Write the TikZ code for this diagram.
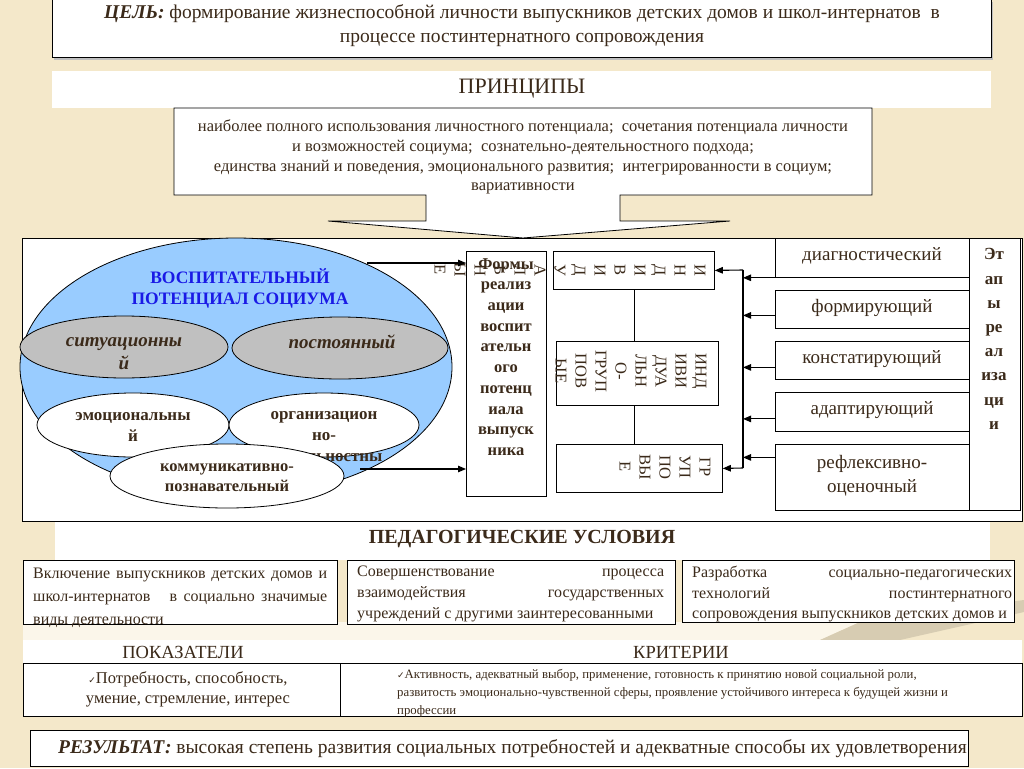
\documentclass[tikz,border=0pt]{standalone}
\usepackage{fontspec}
\setmainfont{Liberation Serif}
\newfontfamily\dejavu{DejaVu Sans}
\usetikzlibrary{shapes.geometric,arrows.meta}
\definecolor{cream}{HTML}{F4E8CA}
\definecolor{ink}{HTML}{3B2A1A}
\definecolor{skyb}{HTML}{99CCFF}
\definecolor{grayel}{HTML}{C0C0C0}
\definecolor{titleblue}{HTML}{1A1AE6}
\newcommand{\myfs}[2]{\fontsize{#1}{#2}\selectfont}
\newcommand{\chk}{{\dejavu\fontsize{9}{9}\selectfont ✓}}
\begin{document}
\begin{tikzpicture}[x=1pt,y=-1pt,
  box/.style={draw=black,line width=0.8pt,fill=white,inner sep=0pt,anchor=north west},
  band/.style={fill=white,draw=none,inner sep=0pt,anchor=north west},
  arr/.style={line width=1.1pt,-{Triangle[length=8pt,width=6.5pt]}},
  lbl/.style={text=ink,inner sep=0pt,align=center},
  el/.style={ellipse,draw=black,line width=0.8pt,inner sep=0pt},
  conn/.style={line width=0.8pt},
]
\useasboundingbox (0,0) rectangle (1024,768);
\fill[cream] (0,0) rectangle (1024,768);
% light streaks of the background
\fill[white!60!cream] (23,622) -- (860,622) -- (820,640) -- (23,640) -- cycle;
\fill[black!12!cream] (860,622) -- (1024,600) -- (1024,612) -- (900,640) -- (820,640) -- cycle;

% ---------- goal ----------
\fill[black!25] (54,2) rectangle (993,60);
\node[box,minimum width=939pt,minimum height=60pt] (goal) at (52,-3) {};
\node[lbl,font=\myfs{19.5}{24}] (goalt) at (522,26)
  {\textbf{\textit{ЦЕЛЬ:}} формирование жизнеспособной личности выпускников детских домов и школ-интернатов\ \ в\\процессе постинтернатного сопровождения};

% ---------- principles ----------
\node[band,minimum width=939pt,minimum height=37pt] (princband) at (52,71) {};
\node[lbl,font=\myfs{22}{22}] (princh) at (522,89) {ПРИНЦИПЫ};

% main frame
\node[box,minimum width=1000pt,minimum height=283pt] (main) at (22,238) {};

% callout arrow
\draw[line width=0.8pt,fill=white] (174,108) -- (872,108) -- (872,195) -- (620,195) -- (620,221)
  -- (730,221) -- (523,238) -- (328,221) -- (426,221) -- (426,195) -- (174,195) -- cycle;
\node[lbl,font=\myfs{16.5}{19.7}] (princ) at (523,157)
  {наиболее полного использования личностного потенциала;\ \ сочетания потенциала личности\\
   и возможностей социума;\ \ сознательно-деятельностного подхода;\\
   единства знаний и поведения, эмоционального развития;\ \ интегрированности в социум;\\
   вариативности};

% ---------- potential ellipses ----------
\node[el,fill=skyb,minimum width=432pt,minimum height=258pt] (pot) at (236,367) {};
\node[lbl,text=titleblue,font=\bfseries\myfs{17.5}{21}] (pott) at (240,288)
  {ВОСПИТАТЕЛЬНЫЙ\\ПОТЕНЦИАЛ СОЦИУМА};
\node[el,fill=grayel,minimum width=208pt,minimum height=62pt] (sit) at (124,347) {};
\node[lbl,font=\bfseries\itshape\myfs{19}{23}] (sitt) at (124,354) {ситуационны\\й};
\node[el,fill=grayel,minimum width=216pt,minimum height=62pt] (post) at (340,348) {};
\node[lbl,font=\bfseries\itshape\myfs{19}{23}] (postt) at (342,342) {постоянный};
\node[el,fill=white,minimum width=192pt,minimum height=64pt] (emo) at (133,425) {};
\node[lbl,font=\bfseries\myfs{17}{21}] (emot) at (133,427) {эмоциональны\\й};
\node[el,fill=white,minimum width=190pt,minimum height=64pt] (org) at (324,425) {};
\node[lbl,font=\bfseries\myfs{17}{21}] (orgt) at (324,447) {организацион\\но-\\деятельностны\\й};
\node[el,fill=white,minimum width=234pt,minimum height=64pt] (com) at (227,476) {};
\node[lbl,font=\bfseries\myfs{16.5}{20}] (comt) at (227,478) {коммуникативно-\\познавательный};

% ---------- forms ----------
\node[box,minimum width=80pt,minimum height=245pt] (formy) at (466,251) {};
\node[box,minimum width=161pt,minimum height=38pt] (indiv) at (553,251) {};
\node[box,minimum width=162pt,minimum height=64pt] (indgrp) at (556,341) {};
\node[box,minimum width=166pt,minimum height=48pt] (grp) at (556,444) {};
\draw[conn] (indiv.south) -- (indiv.south |- indgrp.north);
\draw[conn] (indiv.south |- indgrp.south) -- (indiv.south |- grp.north);

\node[lbl,rotate=-90,font=\myfs{16.5}{20}] (indivt) at (570,270)
  {И\\Н\\Д\\И\\В\\И\\Д\\У\\А\\Л\\Ь\\Н\\Ы\\Е};
\node[lbl,rotate=-90,font=\myfs{16.5}{20}] (indgrpt) at (631,371)
  {ИНД\\ИВИ\\ДУА\\ЛЬН\\О-\\ГРУП\\ПОВ\\ЫЕ};
\node[lbl,rotate=-90,font=\myfs{16.5}{20}] (grpt) at (665,467)
  {ГР\\УП\\ПО\\ВЫ\\Е};
\node[lbl,font=\bfseries\myfs{16.5}{20.7}] (formyt) at (506,357)
  {Формы\\реализ\\ации\\воспит\\ательн\\ого\\потенц\\иала\\выпуск\\ника};

\coordinate (pa) at (367,263);
\coordinate (pb) at (360,469);
\draw[arr] (pa) -- (pa -| formy.west);
\draw[arr] (pb) -- (pb -| formy.west);

% ---------- stages ----------
\node[box,minimum width=194pt,minimum height=39pt] (diag) at (775,238) {};
\node[box,minimum width=194pt,minimum height=38pt] (formr) at (775,290) {};
\node[box,minimum width=194pt,minimum height=38pt] (konst) at (775,341) {};
\node[box,minimum width=194pt,minimum height=39pt] (adapt) at (775,392) {};
\node[box,minimum width=194pt,minimum height=66pt] (refl) at (775,444) {};
\node[box,minimum width=51pt,minimum height=272pt] (etap) at (969,238) {};
\node[lbl,font=\myfs{19}{24}] at (872,256) {диагностический};
\node[lbl,font=\myfs{19}{24}] at (872,308) {формирующий};
\node[lbl,font=\myfs{19}{24}] at (872,359) {констатирующий};
\node[lbl,font=\myfs{19}{24}] at (872,410) {адаптирующий};
\node[lbl,font=\myfs{19}{24}] at (872,476) {рефлексивно-\\оценочный};
\node[lbl,font=\bfseries\myfs{17}{24.2}] (etapt) at (994,339) {Эт\\ап\\ы\\ре\\ал\\иза\\ци\\и};

\coordinate (bustop) at (743,270);
\coordinate (busbot) at (743,468);
\draw[conn,line width=1.1pt] (bustop) -- (busbot);
\draw[arr] (diag.south west) -- (diag.south west -| bustop);
\draw[arr] ([yshift=-6pt]formr.west) -- ([yshift=-6pt]formr.west -| bustop);
\draw[arr] ([yshift=-7pt]konst.west) -- ([yshift=-7pt]konst.west -| bustop);
\draw[arr] ([yshift=-7pt]adapt.west) -- ([yshift=-7pt]adapt.west -| bustop);
\draw[arr] ([yshift=20pt]refl.west) -- ([yshift=20pt]refl.west -| bustop);
\draw[arr] (bustop) -- (indiv.east);
\draw[arr] (busbot) -- (grp.east);

% ---------- pedagogical conditions ----------
\node[band,minimum width=935pt,minimum height=38pt] (pedband) at (55,522) {};
\node[lbl,font=\bfseries\myfs{20}{20}] (pedt) at (522,539) {ПЕДАГОГИЧЕСКИЕ УСЛОВИЯ};
\node[box,minimum width=314pt,minimum height=64pt] (c1) at (23,560) {};
\node[box,minimum width=328pt,minimum height=64pt] (c2) at (347,560) {};
\node[box,minimum width=332pt,minimum height=62pt] (c3) at (682,560) {};
\node[text=ink,inner sep=0pt,anchor=north west,text width=294pt,align=justify,font=\myfs{16}{23}] (c1t) at (33,568)
  {Включение выпускников детских домов и\linebreak школ-интернатов\ \ \ в социально значимые\linebreak виды деятельности};
\node[text=ink,inner sep=0pt,anchor=north west,text width=307pt,align=justify,font=\myfs{16}{21}] (c2t) at (357,566)
  {\parfillskip=0pt Совершенствование процесса\linebreak взаимодействия государственных\linebreak учреждений с другими заинтересованными};
\node[text=ink,inner sep=0pt,anchor=north west,text width=320pt,align=justify,font=\myfs{16}{20.5}] (c3t) at (692,566)
  {\parfillskip=0pt Разработка социально-педагогических\linebreak технологий постинтернатного\linebreak сопровождения выпускников детских домов и};

% ---------- indicators / criteria ----------
\node[band,minimum width=999pt,minimum height=23pt] (pokband) at (23,640) {};
\node[lbl,font=\myfs{18.5}{18}] (pokt) at (183,652) {ПОКАЗАТЕЛИ};
\node[lbl,font=\myfs{18.5}{18}] (krit) at (681,652) {КРИТЕРИИ};
\node[box,minimum width=317pt,minimum height=53pt] (rowl) at (23,663) {};
\node[box,minimum width=682pt,minimum height=53pt] (rowr) at (340,663) {};
\node[lbl,font=\myfs{16.5}{20}] (rowlt) at (188,689) {\chk Потребность, способность,\\умение, стремление, интерес};
\node[text=ink,inner sep=0pt,anchor=north west,align=left,font=\myfs{12.8}{18}] (rowrt) at (397,669)
  {\chk Активность, адекватный выбор, применение, готовность к принятию новой социальной роли,\\
   развитость эмоционально-чувственной сферы, проявление устойчивого интереса к будущей жизни и\\
   профессии};

% ---------- result ----------
\node[box,minimum width=938pt,minimum height=36pt] (res) at (30,730) {};
\node[lbl,font=\myfs{19.5}{20}] (rest) at ([xshift=13pt]res.center)
  {\textbf{\textit{РЕЗУЛЬТАТ:}} высокая степень развития социальных потребностей и адекватные способы их удовлетворения};
\end{tikzpicture}
\end{document}
